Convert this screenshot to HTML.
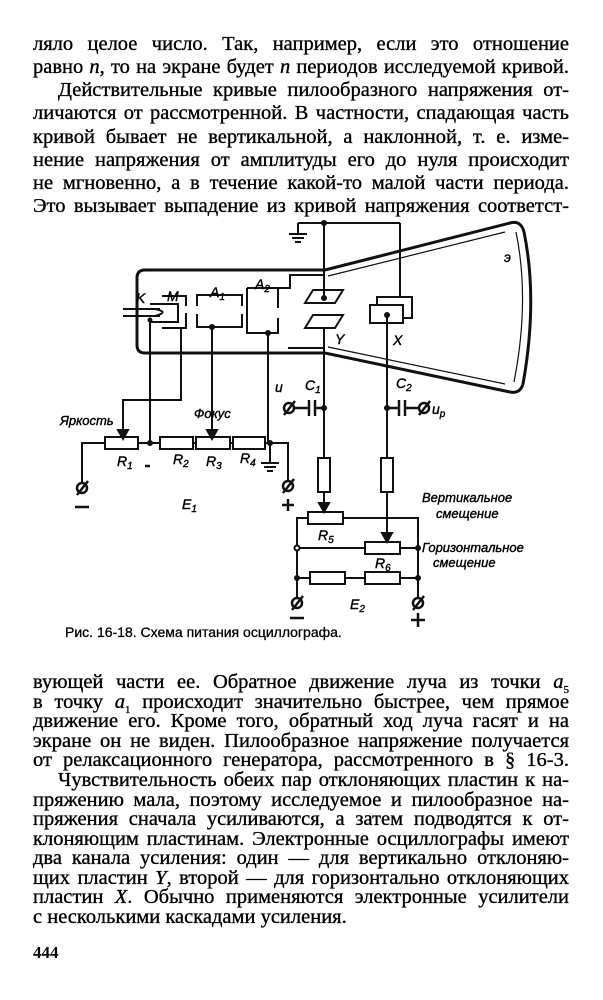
<!DOCTYPE html>
<html><head><meta charset="utf-8">
<style>
html,body{margin:0;padding:0;background:#fff;}
body{width:603px;height:1000px;position:relative;overflow:hidden;color:#000;font-family:"Liberation Serif","Noto Serif CJK SC",serif;}
.t{position:absolute;left:33px;width:536px;font-size:20.5px;line-height:20px;white-space:nowrap;text-align:justify;text-align-last:justify;-webkit-text-stroke:0.35px #000;}
.t.i{left:58px;width:511px;}
.cap{position:absolute;left:65px;top:624px;font-family:"Liberation Sans",sans-serif;font-size:14px;-webkit-text-stroke:0.3px #000;}
svg{position:absolute;left:0;top:0;}
svg text{font-family:"Liberation Sans",sans-serif;font-style:italic;fill:#000;stroke:#000;stroke-width:0.4px;}
</style></head><body>
<div class="t" style="top:34px">ляло целое число. Так, например, если это отношение</div>
<div class="t" style="top:57px">равно <i>n</i>, то на экране будет <i>n</i> периодов исследуемой кривой.</div>
<div class="t i" style="top:80px">Действительные кривые пилообразного напряжения от-</div>
<div class="t" style="top:103px">личаются от рассмотренной. В частности, спадающая часть</div>
<div class="t" style="top:127px">кривой бывает не вертикальной, а наклонной, т. е. изме-</div>
<div class="t" style="top:150px">нение напряжения от амплитуды его до нуля происходит</div>
<div class="t" style="top:173px">не мгновенно, а в течение какой-то малой части периода.</div>
<div class="t" style="top:196px">Это вызывает выпадение из кривой напряжения соответст-</div>

<svg width="603" height="1000" viewBox="0 0 603 1000" fill="none" stroke="#111" stroke-width="2">
<path d="M325 270 L145 270 Q137 270 137 278 L137 345 Q137 353 145 353 L325 353 L510 392 Q520 394 523 384 Q538 300 524 232 Q521 220 510 223 Z" stroke-width="3"/>
<path d="M328 276 L505 232" stroke-width="1.2"/>
<path d="M328 347 L505 384" stroke-width="1.2"/>
<path d="M516 232 Q530 300 514 382" stroke-width="1.2"/>
<path d="M247 288 L290 288 L290 275 L325 275"/>
<path d="M288 348 L325 348"/>
<path d="M123 309 L160 309 M123 316 L160 316"/>
<path d="M150 304 L178 304 L178 322 L150 322 M155 309 Q170 312 155 316"/>
<path d="M162 296 L186 296 L186 306 M186 313 L186 328 L162 328"/>
<path d="M197 306 L197 295 L242 295 L242 306 M242 314 L242 327 L197 327 L197 314"/>
<path d="M247 288 L247 333 L278 333 L278 318 M278 308 L278 288 L270 288"/>
<path d="M305 303 L313 290 L343 290 L335 303 Z M305 328 L313 315 L343 315 L335 328 Z"/>
<rect x="377" y="297" width="35" height="21"/>
<rect x="370" y="305" width="33" height="18" fill="#fff"/>
<path d="M298 223 L400 223 M400 223 L400 297 M298 223 L298 234 M289 234 L307 234 M292 238 L304 238 M295 242 L301 242"/>
<path d="M324 223 L324 298 M324 328 L324 458 M324 492 L324 505"/>
<rect x="318" y="458" width="12" height="34"/>
<path d="M387 315 L387 458 M387 492 L387 535"/>
<rect x="381" y="458" width="12" height="34"/>
<path d="M319 503 L324 512 L329 503 Z M382 533 L387 542 L392 533 Z" fill="#111"/>
<path d="M294 408 L309 408 M309 400 L309 416 M315 400 L315 416 M315 408 L324 408" stroke-width="2.5"/>
<path d="M387 408 L399 408 M399 400 L399 416 M405 400 L405 416 M405 408 L419 408" stroke-width="2.5"/>
<path d="M150 320 L150 443 M181 328 L181 400 L123 400 L123 432 M212 327 L212 432 M268 333 L268 443"/>
<path d="M118 430 L123 439 L128 430 Z M207 430 L212 439 L217 430 Z" fill="#111"/>
<path d="M82 482 L82 443 L105 443 M138 443 L160 443 M193 443 L196 443 M230 443 L233 443 M265 443 L288 443 L288 480"/>
<rect x="105" y="437" width="33" height="12"/><rect x="160" y="437" width="33" height="12"/>
<rect x="196" y="437" width="34" height="12"/><rect x="233" y="437" width="32" height="12"/>
<path d="M270 443 L270 463 M261 463 L279 463 M264 467 L276 467 M267 471 L273 471"/>
<path d="M297 598 L297 518 L308 518 M343 518 L418 518 L418 598 M300 548 L365 548 M400 548 L418 548 M297 578 L310 578 M345 578 L365 578 M400 578 L418 578"/>
<rect x="308" y="512" width="35" height="12"/><rect x="365" y="542" width="35" height="12"/>
<rect x="310" y="572" width="35" height="12"/><rect x="365" y="572" width="35" height="12"/>
<g fill="#111" stroke="none">
<circle cx="324" cy="223" r="3"/><circle cx="324" cy="298" r="3"/><circle cx="387" cy="315" r="3"/>
<circle cx="150" cy="320" r="2.5"/><circle cx="212" cy="327" r="3"/><circle cx="268" cy="333" r="3"/>
<circle cx="150" cy="443" r="3"/><circle cx="270" cy="443" r="3"/>
<circle cx="324" cy="408" r="3"/><circle cx="387" cy="408" r="3"/>
<circle cx="418" cy="548" r="3"/><circle cx="297" cy="578" r="3"/><circle cx="418" cy="578" r="3"/>
</g>
<circle cx="297" cy="548" r="2.5" fill="#fff"/>
<g stroke-width="2.5">
<circle cx="82" cy="488" r="5"/><path d="M77 495 L88 481"/>
<circle cx="288" cy="486" r="5"/><path d="M283 493 L294 479"/>
<circle cx="297" cy="603" r="5"/><path d="M292 610 L303 596"/>
<circle cx="418" cy="603" r="5"/><path d="M413 610 L424 596"/>
<circle cx="289" cy="408" r="5"/><path d="M284 415 L295 401"/>
<circle cx="424" cy="408" r="5"/><path d="M419 415 L430 401"/>
<path d="M75 507 L89 507 M290 618 L304 618 M282 505 L294 505 M288 499 L288 511 M411 620 L425 620 M418 613 L418 627 M145 466 L150 466"/>
</g>
</svg>
<svg width="603" height="1000" viewBox="0 0 603 1000">
<g font-size="14">
<text x="136" y="303">K</text><text x="167" y="301">M</text>
<text x="210" y="297">A<tspan font-size="10" dy="3">1</tspan></text>
<text x="255" y="289">A<tspan font-size="10" dy="3">2</tspan></text>
<text x="335" y="344" font-style="normal">Y</text><text x="393" y="345" font-style="normal">X</text>
<text x="504" y="262">э</text>
<text x="275" y="392">u</text>
<text x="305" y="390">C<tspan font-size="10" dy="3">1</tspan></text>
<text x="396" y="388">C<tspan font-size="10" dy="3">2</tspan></text>
<text x="432" y="414">u<tspan font-size="10" dy="3">p</tspan></text>
<text x="60" y="425" font-size="13">Яркость</text>
<text x="194" y="418" font-size="13">Фокус</text>
<text x="117" y="466">R<tspan font-size="10" dy="3">1</tspan></text>
<text x="173" y="464">R<tspan font-size="10" dy="3">2</tspan></text>
<text x="206" y="466">R<tspan font-size="10" dy="3">3</tspan></text>
<text x="240" y="463">R<tspan font-size="10" dy="3">4</tspan></text>
<text x="182" y="509">E<tspan font-size="10" dy="3">1</tspan></text>
<text x="318" y="540">R<tspan font-size="10" dy="3">5</tspan></text>
<text x="375" y="568">R<tspan font-size="10" dy="3">6</tspan></text>
<text x="350" y="609">E<tspan font-size="10" dy="3">2</tspan></text>
<text x="422" y="502" font-size="13">Вертикальное</text>
<text x="436" y="518" font-size="13">смещение</text>
<text x="422" y="552" font-size="13">Горизонтальное</text>
<text x="433" y="567" font-size="13">смещение</text>
</g>
</svg>
<div class="cap">Рис. 16-18. Схема питания осциллографа.</div>

<div class="t" style="top:672px">вующей части ее. Обратное движение луча из точки <i>a</i><sub style="font-size:11px">5</sub></div>
<div class="t" style="top:692px">в точку <i>a</i><sub style="font-size:11px">1</sub> происходит значительно быстрее, чем прямое</div>
<div class="t" style="top:711px">движение его. Кроме того, обратный ход луча гасят и на</div>
<div class="t" style="top:731px">экране он не виден. Пилообразное напряжение получается</div>
<div class="t" style="top:750px">от релаксационного генератора, рассмотренного в § 16-3.</div>
<div class="t i" style="top:770px">Чувствительность обеих пар отклоняющих пластин к на-</div>
<div class="t" style="top:790px">пряжению мала, поэтому исследуемое и пилообразное на-</div>
<div class="t" style="top:809px">пряжения сначала усиливаются, а затем подводятся к от-</div>
<div class="t" style="top:829px">клоняющим пластинам. Электронные осциллографы имеют</div>
<div class="t" style="top:848px">два канала усиления: один — для вертикально отклоняю-</div>
<div class="t" style="top:868px">щих пластин <i>Y</i>, второй — для горизонтально отклоняющих</div>
<div class="t" style="top:887px">пластин <i>X</i>. Обычно применяются электронные усилители</div>
<div class="t" style="top:907px;text-align-last:left">с несколькими каскадами усиления.</div>
<div style="position:absolute;left:33px;top:943px;font-size:17px;font-weight:bold;">444</div>
</body></html>
